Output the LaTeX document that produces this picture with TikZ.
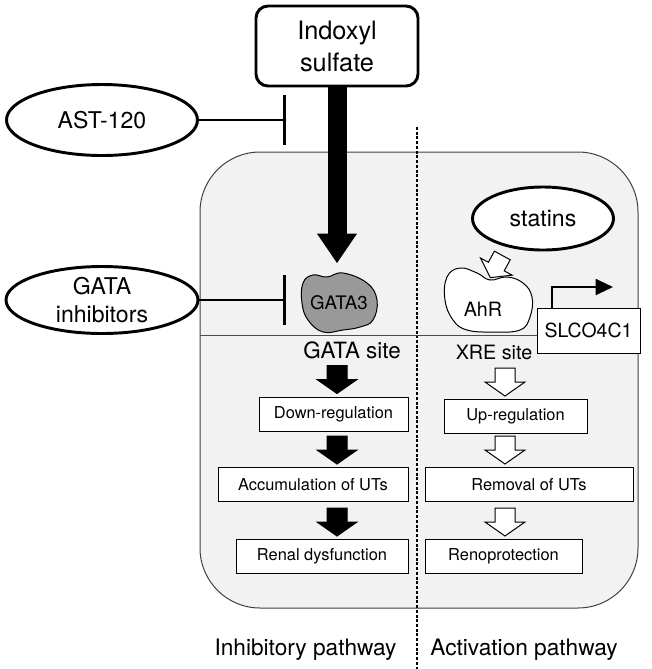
\documentclass[tikz,border=0pt]{standalone}
\usepackage{fontspec}
\setmainfont{TeX Gyre Heros}
\usetikzlibrary{shapes.geometric,arrows.meta,calc}

\tikzset{
  cellbox/.style={draw=black!75, fill=gray!10, line width=0.75pt, rounded corners=45pt,
    minimum width=328.5pt, minimum height=342pt},
  stepbox/.style={draw, fill=white, line width=0.75pt, inner sep=0pt,
    minimum height=25.5pt, font=\fontsize{12.3}{14}\selectfont},
  genebox/.style={draw, fill=white, line width=0.75pt, inner sep=0pt,
    minimum width=77.25pt, minimum height=33.75pt, font=\fontsize{14.6}{17}\selectfont},
  drug/.style={ellipse, draw, fill=white, line width=2.2pt, inner sep=0pt, align=center,
    font=\fontsize{17.3}{21}\selectfont},
  inhibit/.style={line width=1.9pt, -{Bar[width=37pt]}},
  bigarrow/.style={line width=14.25pt, -{Triangle[length=22pt,width=30pt,line width=0pt]}},
  divline/.style={line width=0.8pt, dash pattern=on 2.25pt off 1.3pt},
  dnaline/.style={line width=0.75pt, draw=black!70},
  blkarrow/.pic={\filldraw[line width=0.75pt, fill=black]
    (-10,-31) -- (10,-31) -- (10,-17) -- (20,-17) -- (0,-3) -- (-20,-17) -- (-10,-17) -- cycle;},
  openarrow/.pic={\filldraw[line width=0.75pt, fill=white]
    (-10,-31) -- (10,-31) -- (10,-17) -- (20,-17) -- (0,-3) -- (-20,-17) -- (-10,-17) -- cycle;},
}

\begin{document}
\begin{tikzpicture}[x=0.75pt, y=-0.75pt]
\useasboundingbox (0,0) rectangle (652,669);
% cell
\node[cellbox] (cell) at (419,380) {};
\coordinate (divtop) at (417,127);
\coordinate (divbot) at (417,669);
\draw[divline] (divtop) -- (divbot);
% gene
\coordinate (dnay) at (0,335);
\node[genebox] (slco) at (588.5,330.5) {SLCO4C1};
\draw[dnaline] (cell.west |- dnay) -- (slco.west |- dnay);
\coordinate (tss) at (613,287);
\draw[line width=1.5pt, -{Triangle[length=13pt,width=12pt]}] ($(slco.north west)+(15,0)$) |- (tss);
% factors
\draw[line width=0.75pt, fill=black!40] plot[smooth cycle, tension=0.7] coordinates {
  (303,283) (313,275) (327,277) (343,273) (367,283) (377,300)
  (373,320) (360,327) (343,330) (323,332) (308,320) (302,303)};
\draw[line width=0.75pt, fill=white] plot[smooth cycle, tension=0.7] coordinates {
  (447,277) (460,268) (477,273) (490,280) (507,277) (523,283) (532,297)
  (530,317) (520,330) (493,332) (467,330) (453,320) (445,300)};
\node[font=\fontsize{14}{16}\selectfont] (gata3) at (339,303) {GATA3};
\node[font=\fontsize{14.8}{17}\selectfont] (ahr) at (483,309) {AhR};
\node[font=\fontsize{16.8}{19}\selectfont] (gatasite) at (352,350.5) {GATA site};
\node[font=\fontsize{14.8}{17}\selectfont] (xresite) at (494,352.5) {XRE site};
% inputs
\node[draw, fill=white, line width=2.2pt, rounded corners=9pt, align=center,
  minimum width=121.5pt, minimum height=60pt, font=\fontsize{19}{24}\selectfont]
  (indoxyl) at (337,46) {Indoxyl\\sulfate};
\node[drug, minimum width=143.25pt, minimum height=53.25pt] (ast) at (102,120) {AST-120};
\node[drug, minimum width=144pt, minimum height=50.25pt] (gatainh) at (102,300) {GATA\\inhibitors};
\node[drug, minimum width=105.75pt, minimum height=47.25pt] (statins) at (543,218.5) {statins};
\coordinate (gatatip) at (337,263);
\coordinate (barx) at (286,0);
\draw[bigarrow] (indoxyl.south) -- (gatatip);
\draw[inhibit] (ast.east) -- (ast.east -| barx);
\draw[inhibit] (gatainh.east) -- (gatainh.east -| barx);
\pic[rotate=-28.5, scale=0.9] at (489,280) {openarrow};
% steps
\coordinate (colL) at (337,0);
\coordinate (colR) at (505,0);
\node[stepbox, minimum width=111.75pt] (down) at (333.5,414) {Down-regulation};
\node[stepbox, minimum width=142.5pt] (accum) at (313,484.5) {Accumulation of UTs};
\node[stepbox, minimum width=129pt] (renal) at (322,556.5) {Renal dysfunction};
\node[stepbox, minimum width=107.25pt] (upreg) at (515.5,416.5) {Up-regulation};
\node[stepbox, minimum width=156pt] (removal) at (529,484.5) {Removal of UTs};
\node[stepbox, minimum width=117.75pt] (renopro) at (503.5,556.5) {Renoprotection};
\pic at (down.north -| colL) {blkarrow};
\pic at (accum.north -| colL) {blkarrow};
\pic at (renal.north -| colL) {blkarrow};
\pic at (upreg.north -| colR) {openarrow};
\pic at (removal.north -| colR) {openarrow};
\pic at (renopro.north -| colR) {openarrow};
% pathways
\node[anchor=base, font=\fontsize{17}{19}\selectfont] (inhpath) at (305.5,655) {Inhibitory pathway};
\node[anchor=base, font=\fontsize{17}{19}\selectfont] (actpath) at (524,655) {Activation pathway};
\end{tikzpicture}
\end{document}
